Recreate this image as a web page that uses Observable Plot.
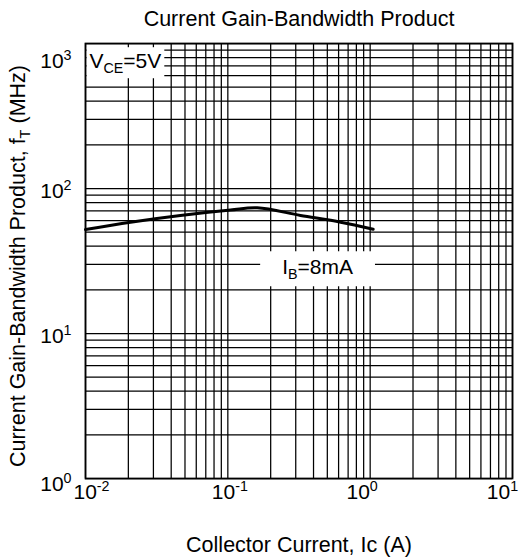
<!DOCTYPE html>
<html>
<head>
<meta charset="utf-8">
<script src="https://cdn.jsdelivr.net/npm/d3@7"></script>
<script src="https://cdn.jsdelivr.net/npm/@observablehq/plot@0.6"></script>
<style>
  html, body { margin: 0; padding: 0; background: #fff; }
  #chart svg { display: block; }
</style>
</head>
<body>
<div id="chart"></div>
<script>
// ---- data ----
const collectorCurrent = [0.01, 0.0207, 0.0464, 0.1045, 0.161, 0.324, 0.62, 1.05]; // A
const gainBandwidth    = [52.1, 58.6, 65.2, 71.1, 73.6, 65.2, 58.6, 52.4];         // MHz
const xTicks = [0.01, 0.1, 1, 10];
const yTicks = [1, 10, 100, 1000];
const gridMantissas = [1, 2, 3, 4, 5, 6, 7, 8, 9];
const xDecades = [0.01, 0.1, 1];
const yDecades = [1, 10, 100];
const titleText = "Current Gain-Bandwidth Product";
const xLabel = "Collector Current, Ic (A)";
const yLabel = "Current Gain-Bandwidth Product, f_{T} (MHz)";
const conditionLabel = "V_{CE}=5V";
const seriesLabel = "I_{B}=8mA";
const seriesLabelAt = {x: 0.427, y: 28.5};

const curve = collectorCurrent.map((x, i) => ({x, y: gainBandwidth[i]}));
const xGrid = xDecades.flatMap(d => gridMantissas.map(m => m * d)).concat([10]);
const yGrid = yDecades.flatMap(d => gridMantissas.map(m => m * d)).concat([1000]);

const font = "'Liberation Sans', Arial, Helvetica, sans-serif";
const pow10 = d => `10^{${Math.round(Math.log10(d))}}`;

const chart = Plot.plot({
  width: 525,
  height: 558,
  marginTop: 43,
  marginRight: 13,
  marginBottom: 80,
  marginLeft: 85,
  style: {fontFamily: font, fontSize: "21px", color: "black", background: "white"},
  x: {type: "log", domain: [0.01, 10], ticks: xTicks, tickFormat: pow10, tickSize: 0, tickPadding: 6, label: null},
  y: {type: "log", domain: [1, 1000], ticks: yTicks, tickFormat: pow10, tickSize: 0, tickPadding: 14, label: null},
  marks: [
    Plot.ruleX(xGrid, {x: d => d, stroke: "black", strokeWidth: 1.25}),
    Plot.ruleY(yGrid, {y: d => d, stroke: "black", strokeWidth: 1.25}),
    Plot.line(curve, {x: "x", y: "y", stroke: "black", strokeWidth: 3, curve: "catmull-rom"}),
    Plot.text([conditionLabel], {text: d => d, frameAnchor: "top-left", textAnchor: "start", lineAnchor: "middle", dx: 4, dy: 18, fill: "black", fontSize: 21}),
    Plot.text([seriesLabel], {x: () => seriesLabelAt.x, y: () => seriesLabelAt.y, text: d => d, textAnchor: "middle", lineAnchor: "middle", fill: "black", fontSize: 21}),
    Plot.frame({stroke: "black", strokeWidth: 1.75}),
    Plot.text([titleText], {text: d => d, frameAnchor: "top", textAnchor: "middle", lineAnchor: "middle", dy: -24, fontSize: 21.5, fill: "black"}),
    Plot.text([xLabel], {text: d => d, frameAnchor: "bottom", textAnchor: "middle", lineAnchor: "middle", dy: 67, fontSize: 21.5, fill: "black"}),
    Plot.text([yLabel], {text: d => d, frameAnchor: "left", textAnchor: "middle", lineAnchor: "middle", rotate: -90, dx: -67, dy: 5, fontSize: 21.5, fill: "black"})
  ]
});

document.getElementById("chart").appendChild(chart);

const NS = "http://www.w3.org/2000/svg";

// tick label size and small nudges (as placed in the reference)
const yTickShift = {"10^{3}": 18, "10^{0}": 6};
const xTickShift = {"10^{-2}": 6, "10^{-1}": 2, "10^{0}": -8, "10^{1}": -10};
chart.querySelectorAll('g[aria-label^="y-axis"] text').forEach(t => {
  t.setAttribute("font-size", 21);
  const s = yTickShift[t.textContent] ?? 3;
  const tr = t.getAttribute("transform") || "";
  t.setAttribute("transform", `${tr} translate(0,${s})`);
});
chart.querySelectorAll('g[aria-label^="x-axis"] text').forEach(t => {
  t.setAttribute("font-size", 21);
  const s = xTickShift[t.textContent] ?? 0;
  const tr = t.getAttribute("transform") || "";
  t.setAttribute("transform", `${tr} translate(${s},0)`);
});

// tag the notes before rich-text conversion
const notePads = {[conditionLabel]: [3, 2], [seriesLabel]: [22, 4]};
const notes = [];
chart.querySelectorAll("text").forEach(t => {
  if (notePads[t.textContent]) notes.push([t, notePads[t.textContent]]);
});

// rich text: ^{...} superscript, _{...} subscript
function richify(el) {
  const s = el.textContent;
  if (!/[\^_]\{/.test(s)) return;
  const parts = s.split(/([\^_]\{[^}]*\})/);
  while (el.firstChild) el.removeChild(el.firstChild);
  let shift = 0;
  for (const p of parts) {
    if (!p) continue;
    const t = document.createElementNS(NS, "tspan");
    const m = p.match(/^([\^_])\{([^}]*)\}$/);
    if (m) {
      const d = m[1] === "^" ? -8 : 5;
      t.setAttribute("dy", d - shift); shift = d;
      t.setAttribute("font-size", "0.68em");
      t.textContent = m[2];
    } else {
      if (shift) t.setAttribute("dy", -shift);
      shift = 0;
      t.textContent = p;
    }
    el.appendChild(t);
  }
}
chart.querySelectorAll("text").forEach(richify);

// white boxes behind the notes
for (const [t, [padX, padY]] of notes) {
  const b = t.getBBox();
  const r = document.createElementNS(NS, "rect");
  r.setAttribute("x", b.x - padX);
  r.setAttribute("y", b.y - padY);
  r.setAttribute("width", b.width + 2 * padX);
  r.setAttribute("height", b.height + 2 * padY);
  r.setAttribute("fill", "white");
  if (t.getAttribute("transform")) r.setAttribute("transform", t.getAttribute("transform"));
  t.parentNode.insertBefore(r, t);
}
</script>
</body>
</html>
